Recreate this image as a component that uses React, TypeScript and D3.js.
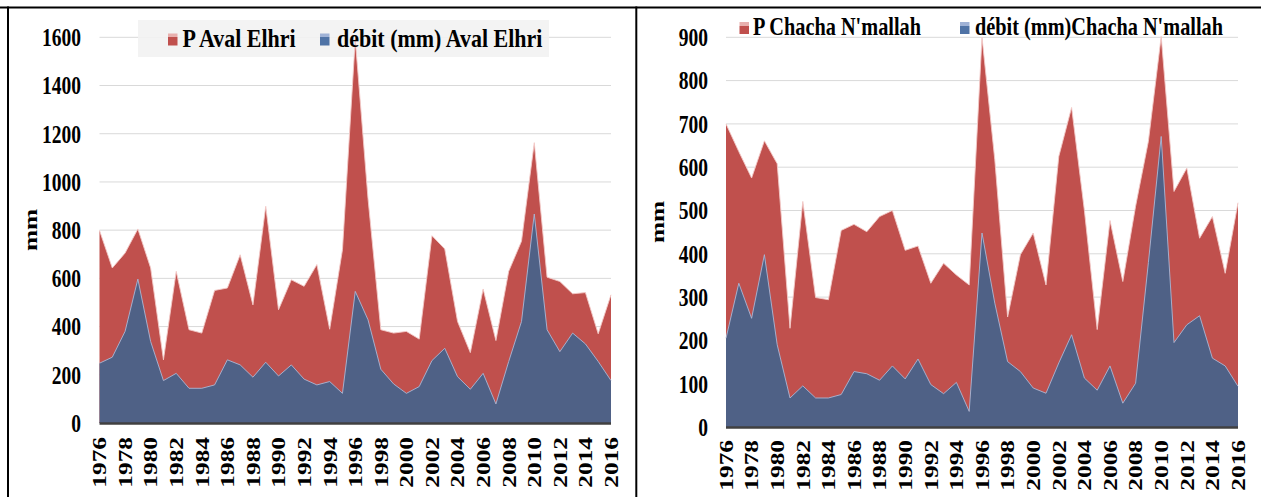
import React from "react";
import * as d3 from "d3";

const years = [1976,1977,1978,1979,1980,1981,1982,1983,1984,1985,1986,1987,1988,1989,1990,1991,1992,1993,1994,1995,1996,1997,1998,1999,2000,2001,2002,2003,2004,2005,2006,2007,2008,2009,2010,2011,2012,2013,2014,2015,2016];

const pAval = [799,643,705,805,643,262,629,387,373,550,560,698,490,899,470,594,567,657,389,719,1592,930,387,373,380,348,777,722,421,292,556,342,629,754,1163,605,587,536,541,370,532];
const debitAval = [248,273,380,597,338,176,206,144,144,158,262,241,190,252,195,241,182,158,172,123,546,428,223,162,123,151,259,310,192,140,206,79,255,421,867,387,296,373,328,255,176];

const pChacha = [700,636,575,661,608,228,521,299,294,454,468,451,486,500,408,418,332,378,351,328,900,617,254,398,448,328,625,738,500,225,477,336,510,660,902,544,598,436,486,355,518];
const debitChacha = [205,332,251,398,190,67,95,67,67,75,128,123,108,141,111,157,98,77,103,36,448,286,151,128,90,78,148,213,113,85,141,55,101,380,671,195,236,257,159,141,94];

const ticksAval = [0,200,400,600,800,1000,1200,1400,1600];
const ticksChacha = [0,100,200,300,400,500,600,700,800,900];

const legendAval = ["P Aval Elhri", "débit (mm) Aval Elhri"];
const legendChacha = ["P Chacha N'mallah", "débit (mm)Chacha N'mallah"];

const RED = "#C0504D";
const BLUE = "#4F6186";
const FONT = "'Liberation Serif', 'Times New Roman', serif";
const SY = 1.3;

type PanelProps = {
  x0: number; x1: number; y0: number; y1: number; yMax: number;
  p: number[]; d: number[]; ticks: number[];
  tickRight: number; mmX: number; mmY: number; labelTop: number;
  legend: string[]; legendBaseline: number; legendSize: number;
  legRedX: number; legRedTextX: number; legBlueX: number; legBlueTextX: number;
  legendBg?: [number, number, number, number];
  id: string;
};

function Panel(props: PanelProps) {
  const { x0, x1, y0, y1, yMax, p, d, ticks, tickRight, mmX, mmY, labelTop, legend, legendBaseline, id } = props;
  const x = d3.scalePoint<number>().domain(years).range([x0, x1]);
  const y = d3.scaleLinear().domain([0, yMax]).range([y0, y1]);
  const area = d3.area<number>()
    .x((_, i) => x(years[i]) as number)
    .y0(y(0))
    .y1((v) => y(v));
  const line = d3.line<number>()
    .x((_, i) => x(years[i]) as number)
    .y((v) => y(v));
  const textStyle = { fontFamily: FONT, fontWeight: "bold" as const, fontSize: 19.5, fill: "#000" };
  const legStyle = { ...textStyle, fontSize: props.legendSize };
  const legSY = (19.5 * SY) / props.legendSize;
  return (
    <g>
      <defs>
        <linearGradient id={id + "r"} x1="0" x2="0" y1="0" y2="1">
          <stop offset="0" stopColor="#e8b0ae" />
          <stop offset="0.3" stopColor="#e8b0ae" />
          <stop offset="0.31" stopColor={RED} />
          <stop offset="1" stopColor={RED} />
        </linearGradient>
        <linearGradient id={id + "b"} x1="0" x2="0" y1="0" y2="1">
          <stop offset="0" stopColor="#9fb2d6" />
          <stop offset="0.3" stopColor="#9fb2d6" />
          <stop offset="0.31" stopColor="#4F73A6" />
          <stop offset="1" stopColor="#4F73A6" />
        </linearGradient>
      </defs>
      {ticks.filter((t) => t > 0).map((t) => (
        <line key={t} x1={x0} x2={x1} y1={y(t)} y2={y(t)} stroke="#d9d9d9" strokeWidth={1} />
      ))}
      {props.legendBg && (
        <rect x={props.legendBg[0]} y={props.legendBg[1]} width={props.legendBg[2]} height={props.legendBg[3]} fill="#f2f2f2" opacity={0.9} />
      )}
      <path d={area(p) || ""} fill={RED} />
      <path d={line(p) || ""} fill="none" stroke="#f3c9c7" strokeWidth={0.9} />
      <path d={area(d) || ""} fill={BLUE} />
      <path d={line(d) || ""} fill="none" stroke="#a9b8d6" strokeWidth={0.9} />
      <line x1={x0} x2={x1} y1={y(0) + 0.5} y2={y(0) + 0.5} stroke="#404040" strokeWidth={2.5} />
      {ticks.map((t) => (
        <text key={t} transform={`translate(${tickRight},${y(t)}) scale(1,${SY})`} textAnchor="end" dy="0.35em" style={textStyle}>{t}</text>
      ))}
      {years.filter((_, i) => i % 2 === 0).map((yr) => (
        <text key={yr} transform={`translate(${x(yr)},${labelTop}) scale(1,${SY}) rotate(-90)`} textAnchor="end" dy="0.35em" style={textStyle}>{yr}</text>
      ))}
      <text transform={`translate(${mmX},${mmY}) scale(1,${SY}) rotate(-90)`} textAnchor="middle" dy="0.35em" style={textStyle}>mm</text>
      <rect x={props.legRedX} y={legendBaseline - 13} width={9.5} height={12} fill={`url(#${id}r)`} />
      <text transform={`translate(${props.legRedTextX},${legendBaseline}) scale(1,${legSY})`} style={legStyle}>{legend[0]}</text>
      <rect x={props.legBlueX} y={legendBaseline - 13} width={9.5} height={12} fill={`url(#${id}b)`} />
      <text transform={`translate(${props.legBlueTextX},${legendBaseline}) scale(1,${legSY})`} style={legStyle}>{legend[1]}</text>
    </g>
  );
}

export default function App() {
  return (
    <svg width={1261} height={497} style={{ position: "absolute", left: 0, top: 0, background: "#fff" }}>
      <rect x={0} y={0} width={1261} height={497} fill="#fff" />
      <Panel id="a" x0={99.5} x1={611} y0={423} y1={37.3} yMax={1600} p={pAval} d={debitAval} ticks={ticksAval}
        tickRight={81} mmX={30} mmY={230} labelTop={437}
        legend={legendAval} legendBaseline={46.5} legendSize={22}
        legRedX={168} legRedTextX={182.5} legBlueX={320} legBlueTextX={337}
        legendBg={[138, 20, 411, 37]} />
      <Panel id="b" x0={726} x1={1238} y0={427} y1={37.3} yMax={900} p={pChacha} d={debitChacha} ticks={ticksChacha}
        tickRight={708} mmX={657} mmY={222} labelTop={440}
        legend={legendChacha} legendBaseline={35} legendSize={20.3}
        legRedX={739.5} legRedTextX={753} legBlueX={960} legBlueTextX={975} />
      <line x1={0} x2={1261} y1={7.5} y2={7.5} stroke="#000" strokeWidth={2} />
      <line x1={8} x2={8} y1={6.5} y2={497} stroke="#000" strokeWidth={2} />
      <line x1={636.3} x2={636.3} y1={6.5} y2={497} stroke="#000" strokeWidth={2} />
    </svg>
  );
}
